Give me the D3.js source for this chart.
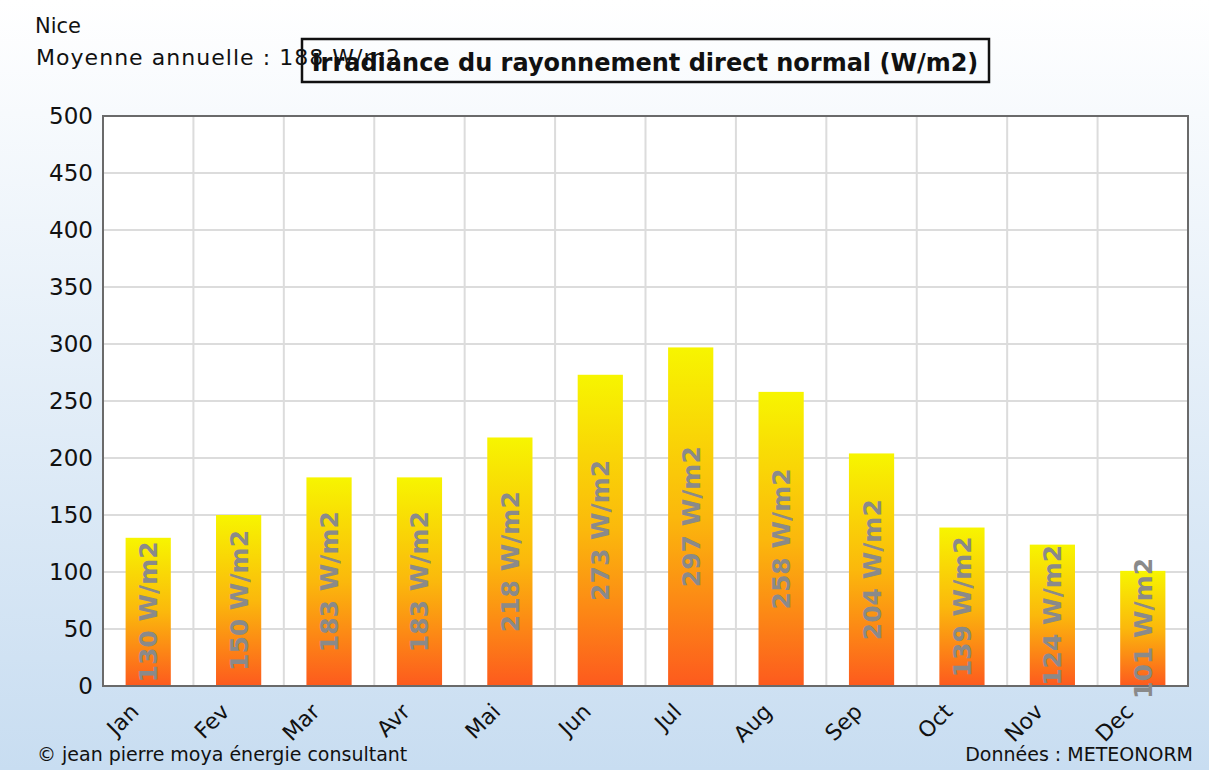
<!DOCTYPE html>
<html>
<head>
<meta charset="utf-8">
<script src="https://cdn.jsdelivr.net/npm/d3@7"></script>
<style>
  html, body { margin: 0; padding: 0; background: #fff; }
  svg { display: block; font-family: "DejaVu Sans", Verdana, sans-serif; }
</style>
</head>
<body>
<svg id="chart" width="1209" height="770"></svg>
<script>
// Monthly direct normal irradiance, Nice (W/m2)
const months = ["Jan", "Fev", "Mar", "Avr", "Mai", "Jun", "Jul", "Aug", "Sep", "Oct", "Nov", "Dec"];
const irradiance = [130, 150, 183, 183, 218, 273, 297, 258, 204, 139, 124, 101];
const yTicks = [0, 50, 100, 150, 200, 250, 300, 350, 400, 450, 500];
const site = "Nice";
const annualMean = 188;

const W = 1209, H = 770;
const margin = { left: 103, right: 21, top: 116, bottom: 84 };
const plotW = W - margin.left - margin.right;
const plotH = H - margin.top - margin.bottom;

const svg = d3.select("#chart");
const defs = svg.append("defs");

// page background: white fading to pale blue
const bg = defs.append("linearGradient").attr("id", "bg")
  .attr("x1", 0).attr("y1", 0).attr("x2", 0).attr("y2", 1);
bg.append("stop").attr("offset", "0%").attr("stop-color", "#ffffff");
bg.append("stop").attr("offset", "100%").attr("stop-color", "#c8ddf1");

// bar fill: yellow on top, orange-red at the base
const barGrad = defs.append("linearGradient").attr("id", "barGrad")
  .attr("x1", 0).attr("y1", 0).attr("x2", 0).attr("y2", 1);
barGrad.append("stop").attr("offset", "0%").attr("stop-color", "#f7f500");
barGrad.append("stop").attr("offset", "50%").attr("stop-color", "#fbb80c");
barGrad.append("stop").attr("offset", "100%").attr("stop-color", "#fd5a1e");

svg.append("rect").attr("width", W).attr("height", H).attr("fill", "url(#bg)");

const x = d3.scaleBand().domain(months).range([0, plotW]).paddingInner(0).paddingOuter(0);
const y = d3.scaleLinear().domain([0, 500]).range([plotH, 0]);

const g = svg.append("g").attr("transform", `translate(${margin.left},${margin.top})`);

// plot area
g.append("rect").attr("width", plotW).attr("height", plotH).attr("fill", "#ffffff");

// grid
g.append("g").selectAll("line.h").data(yTicks).join("line")
  .attr("x1", 0).attr("x2", plotW)
  .attr("y1", d => y(d)).attr("y2", d => y(d))
  .attr("stroke", "#dcdcdc").attr("stroke-width", 2);
g.append("g").selectAll("line.v").data(months.slice(1)).join("line")
  .attr("x1", d => x(d)).attr("x2", d => x(d))
  .attr("y1", 0).attr("y2", plotH)
  .attr("stroke", "#dcdcdc").attr("stroke-width", 2);

// bars
const barW = x.bandwidth() * 0.5;
g.append("g").selectAll("rect.bar").data(irradiance).join("rect")
  .attr("x", (d, i) => x(months[i]) + (x.bandwidth() - barW) / 2)
  .attr("y", d => y(d))
  .attr("width", barW)
  .attr("height", d => plotH - y(d))
  .attr("fill", "url(#barGrad)");

// frame
g.append("rect").attr("width", plotW).attr("height", plotH)
  .attr("fill", "none").attr("stroke", "#6a6a6a").attr("stroke-width", 2);

// value labels, vertical, centred in each bar
g.append("g").selectAll("text.val").data(irradiance).join("text")
  .attr("transform", (d, i) => {
    const cx = x(months[i]) + x.bandwidth() / 2;
    const cy = (y(d) + plotH) / 2;
    return `translate(${cx},${cy}) rotate(-90)`;
  })
  .attr("text-anchor", "middle")
  .attr("dy", "0.36em")
  .attr("font-size", 25)
  .attr("font-weight", "bold")
  .attr("fill", "#8a8a8a")
  .text(d => `${d} W/m2`);

// y axis labels
const yAxis = d3.axisLeft(y).tickValues(yTicks).tickSize(0).tickPadding(10);
g.append("g").call(yAxis)
  .call(s => s.select(".domain").remove())
  .selectAll("text")
  .attr("font-size", 23)
  .attr("font-family", "DejaVu Sans, Verdana, sans-serif")
  .attr("fill", "#111");

// x axis labels, rotated
const xAxis = d3.axisBottom(x).tickSize(0).tickPadding(0);
g.append("g").attr("transform", `translate(0,${plotH})`).call(xAxis)
  .call(s => s.select(".domain").remove())
  .selectAll("text")
  .attr("font-size", 22)
  .attr("font-family", "DejaVu Sans, Verdana, sans-serif")
  .attr("fill", "#111")
  .attr("text-anchor", "end")
  .attr("dy", null)
  .attr("y", 0)
  .attr("transform", "translate(-8,27) rotate(-45)");

// header text
svg.append("text").attr("x", 35).attr("y", 33)
  .attr("font-size", 21).attr("fill", "#111").text(site);
svg.append("text").attr("x", 36).attr("y", 65)
  .attr("font-size", 22).attr("fill", "#111")
  .attr("textLength", 364).attr("lengthAdjust", "spacing")
  .text(`Moyenne annuelle : ${annualMean} W/m2`);

// title box (outline only)
const titleG = svg.append("g");
titleG.append("rect").attr("x", 302).attr("y", 39).attr("width", 687).attr("height", 43)
  .attr("fill", "none").attr("stroke", "#111").attr("stroke-width", 2.5);
titleG.append("text").attr("x", 645).attr("y", 71)
  .attr("text-anchor", "middle").attr("font-size", 24).attr("font-weight", "bold")
  .attr("fill", "#111").text("Irradiance du rayonnement direct normal (W/m2)");

// footer
svg.append("text").attr("x", 37).attr("y", 761)
  .attr("font-size", 19).attr("fill", "#111").text("© jean pierre moya énergie consultant");
svg.append("text").attr("x", 1193).attr("y", 761).attr("text-anchor", "end")
  .attr("font-size", 19).attr("fill", "#111").text("Données : METEONORM");
</script>
</body>
</html>
